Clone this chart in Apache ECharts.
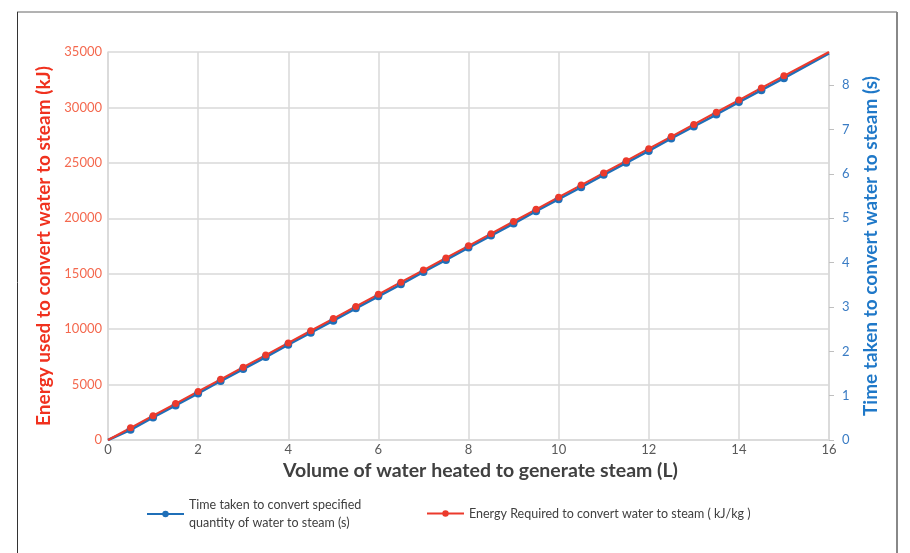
<!DOCTYPE html>
<html><head><meta charset="utf-8">
<script src="https://cdn.jsdelivr.net/npm/echarts@6/dist/echarts.min.js"></script>
<style>html,body{margin:0;padding:0;background:#fff}#c{width:910px;height:553px}</style>
</head><body><div id="c"></div>
<script>
var volumes = [0,0.5,1,1.5,2,2.5,3,3.5,4,4.5,5,5.5,6,6.5,7,7.5,8,8.5,9,9.5,10,10.5,11,11.5,12,12.5,13,13.5,14,14.5,15,16];
var energy = [0,1095,2190,3285,4380,5475,6570,7665,8760,9855,10950,12045,13140,14235,15330,16425,17520,18615,19710,20805,21900,22995,24090,25185,26280,27375,28470,29565,30660,31755,32850,35000];
var timeTaken = [0,0.23,0.51,0.78,1.05,1.33,1.60,1.87,2.15,2.42,2.69,2.97,3.24,3.51,3.79,4.06,4.34,4.61,4.88,5.16,5.43,5.70,5.98,6.25,6.52,6.80,7.07,7.34,7.62,7.89,8.16,8.72];
var timeName = 'Time taken to convert specified quantity of water to steam (s)';
var energyName = 'Energy Required to convert water to steam ( kJ/kg )';

function pts(xs, ys){
  return xs.map(function(x,i){
    var o = {value:[x, ys[i]]};
    if (i === 0 || i === xs.length-1) o.symbol = 'none';
    return o;
  });
}
var FONT = 'Lato';
var chart = echarts.init(document.getElementById('c'));
chart.setOption({
  animation:false,
  textStyle:{fontFamily:FONT},
  grid:{left:108, right:81, top:52, bottom:113, containLabel:false},
  graphic:[
    {type:'line', shape:{x1:17,y1:12,x2:897,y2:12}, style:{stroke:'#666',lineWidth:1}},
    {type:'line', shape:{x1:17.5,y1:12,x2:17.5,y2:553}, style:{stroke:'#333',lineWidth:1}},
    {type:'line', shape:{x1:897,y1:12,x2:897,y2:553}, style:{stroke:'#888',lineWidth:2}}
  ],
  xAxis:{
    type:'value', min:0, max:16, interval:2,
    name:'Volume of water heated to generate steam (L)',
    nameLocation:'middle', nameGap:21,
    nameTextStyle:{fontFamily:FONT, fontSize:19.5, fontWeight:'bold', color:'#404040', padding:[0,0,0,24]},
    axisLine:{lineStyle:{color:'#d9d9d9', width:1.5}},
    axisTick:{show:false},
    axisLabel:{color:'#595959', fontSize:13, margin:3},
    splitLine:{lineStyle:{color:'#d9d9d9', width:1.5}}
  },
  yAxis:[
    {type:'value', min:0, max:35000, interval:5000, position:'left',
     name:'Energy used to convert water to steam (kJ)', nameLocation:'middle', nameGap:55, nameRotate:90,
     nameTextStyle:{fontFamily:FONT, fontSize:19, fontWeight:'bold', color:'#f0311e'},
     axisLine:{show:true, lineStyle:{color:'#d9d9d9', width:1.5}},
     axisTick:{show:false},
     axisLabel:{color:'#f4694f', fontSize:13, margin:6, formatter:function(v){return String(v);}},
     splitLine:{lineStyle:{color:'#d9d9d9', width:1.5}}},
    {type:'value', min:0, max:8.75, interval:1, position:'right',
     name:'Time taken to convert water to steam (s)', nameLocation:'middle', nameGap:32, nameRotate:90,
     nameTextStyle:{fontFamily:FONT, fontSize:19, fontWeight:'bold', color:'#1f78c8'},
     axisLine:{show:true, lineStyle:{color:'#d9d9d9', width:1.5}},
     axisTick:{show:true, length:5, lineStyle:{color:'#bfbfbf'}},
     axisLabel:{color:'#3a7cc4', fontSize:13, margin:13, showMaxLabel:false},
     splitLine:{show:false}}
  ],
  legend:[
    {data:[timeName], left:141, top:491, itemWidth:37, itemHeight:8, itemGap:5,
     formatter:function(){return 'Time taken to convert specified\nquantity of water to steam (s)';},
     textStyle:{fontFamily:FONT, fontSize:12.5, color:'#404040', lineHeight:18}},
    {data:[energyName], left:421, top:502, itemWidth:37, itemHeight:8,
     textStyle:{fontFamily:FONT, fontSize:12.5, color:'#404040'}}
  ],
  series:[
    {name:timeName, type:'line', yAxisIndex:1, data:pts(volumes, timeTaken),
     symbol:'circle', symbolSize:8, showSymbol:true,
     lineStyle:{color:'#1f6fb8', width:2.5}, itemStyle:{color:'#1f6fb8'}},
    {name:energyName, type:'line', yAxisIndex:0, data:pts(volumes, energy),
     symbol:'circle', symbolSize:7, showSymbol:true,
     lineStyle:{color:'#ec3a2c', width:2}, itemStyle:{color:'#ec3a2c'}}
  ]
});
</script></body></html>
